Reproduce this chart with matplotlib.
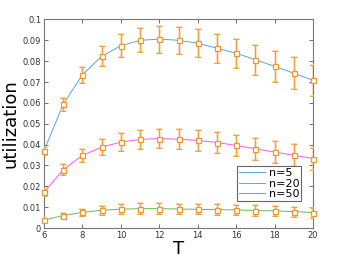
import numpy as np
import matplotlib
matplotlib.use("Agg")
import matplotlib.pyplot as plt

T = [6, 7, 8, 9, 10, 11, 12, 13, 14, 15, 16, 17, 18, 19, 20]

u_n5 = [0.0370, 0.0593, 0.0735, 0.0823, 0.0874, 0.0900, 0.0906, 0.0900,
        0.0886, 0.0862, 0.0838, 0.0807, 0.0775, 0.0742, 0.0708]
err_n5 = [0.0019, 0.0032, 0.0039, 0.0048, 0.0054, 0.0058, 0.0065, 0.0064,
          0.0066, 0.0069, 0.0070, 0.0072, 0.0074, 0.0076, 0.0075]

u_n20 = [0.0171, 0.0280, 0.0348, 0.0388, 0.0412, 0.0425, 0.0429, 0.0426,
         0.0420, 0.0410, 0.0396, 0.0380, 0.0364, 0.0349, 0.0333]
err_n20 = [0.0018, 0.0025, 0.0032, 0.0038, 0.0042, 0.0045, 0.0046, 0.0048,
           0.0050, 0.0052, 0.0051, 0.0053, 0.0053, 0.0053, 0.0053]

u_n50 = [0.0038, 0.0060, 0.0075, 0.0085, 0.0090, 0.0093, 0.0093, 0.0091,
         0.0090, 0.0088, 0.0087, 0.0084, 0.0082, 0.0079, 0.0074]
err_n50 = [0.0010, 0.0010, 0.0018, 0.0022, 0.0024, 0.0025, 0.0025, 0.0022,
           0.0025, 0.0025, 0.0025, 0.0025, 0.0024, 0.0024, 0.0024]

series = [
    ("n=5", u_n5, err_n5, "#5aa5dc"),
    ("n=20", u_n20, err_n20, "#ff55ff"),
    ("n=50", u_n50, err_n50, "#66bb55"),
]

fig = plt.figure(figsize=(3.46, 2.63), dpi=100)
ax = fig.add_axes([0.127, 0.133, 0.778, 0.793])

for label, u, e, c in series:
    ax.plot(T, u, color=c, linewidth=0.7, label=label, zorder=2)
    # light wide bar under the darker thin one
    ax.errorbar(T, u, yerr=e, fmt="none", ecolor="#f9cc98", elinewidth=1.8,
                capsize=2.5, capthick=1.3, alpha=0.8, zorder=3)
    ax.errorbar(T, u, yerr=e, fmt="none", ecolor="#f0962e", elinewidth=0.6,
                capsize=2.5, capthick=0.6, zorder=4)
    ax.plot(T, u, linestyle="none", marker="s", markersize=3.6,
            markerfacecolor="white", markeredgecolor="#f0962e",
            markeredgewidth=0.9, zorder=5, clip_on=False)

ax.set_xlim(6, 20)
ax.set_ylim(0, 0.1)
ax.set_xticks([6, 8, 10, 12, 14, 16, 18, 20])
yt = np.round(np.arange(0, 0.101, 0.01), 2)
ax.set_yticks(yt)
ax.set_yticklabels(["0"] + [f"{v:g}" for v in yt[1:]])

ax.tick_params(direction="in", top=True, right=True, labelsize=6,
               length=3, width=0.6, colors="#555555", labelcolor="#333333", pad=2)
for s in ax.spines.values():
    s.set_color("#777777")
    s.set_linewidth(0.8)

ax.set_xlabel("T", fontsize=13, labelpad=0)
ax.set_ylabel("utilization", fontsize=13, labelpad=2)

leg = ax.legend(loc="lower right", bbox_to_anchor=(0.955, 0.13), fontsize=8,
                fancybox=False, framealpha=1, edgecolor="#666666",
                handlelength=2.4, borderpad=0.15, labelspacing=0.05,
                handletextpad=0.3, borderaxespad=0)
leg.get_frame().set_linewidth(0.8)

fig.savefig("out.png", dpi=100)
